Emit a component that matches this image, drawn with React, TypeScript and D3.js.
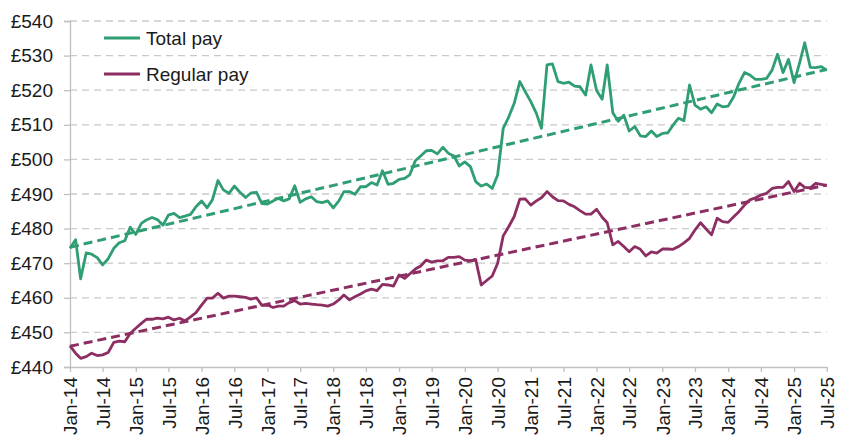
import * as d3 from 'd3';
import { useEffect, useRef } from 'react';

// monthly series, Jan-14 .. Jul-25 (139 points), £ per week
const totalPay = [
  474.3, 476.8, 465.5, 473.0, 472.6, 471.6, 469.5, 471.3, 474.3, 475.9, 476.5, 480.4,
  478.3, 481.5, 482.5, 483.2, 482.6, 481.0, 483.9, 484.4, 483.2, 483.6, 484.1, 486.3,
  488.0, 486.0, 488.3, 493.9, 491.2, 490.2, 492.3, 490.5, 489.0, 490.3, 490.5, 487.2,
  487.1, 488.0, 488.8, 488.0, 488.6, 492.4, 487.6, 488.6, 489.2, 487.8, 487.5, 488.0,
  486.0, 488.0, 490.7, 490.7, 489.9, 492.1, 492.1, 493.3, 492.6, 496.7, 492.8, 493.1,
  494.2, 494.5, 495.5, 499.6, 501.0, 502.5, 502.6, 501.6, 503.5, 501.8, 501.0, 498.1,
  499.3, 497.9, 493.6, 492.3, 492.9, 491.6, 495.5, 509.0, 512.3, 516.2, 522.5, 519.6,
  516.7, 513.3, 509.0, 527.3, 527.6, 522.5, 522.0, 522.3, 521.2, 521.0, 518.6, 527.3,
  519.9, 517.4, 527.3, 513.5, 511.0, 512.8, 508.2, 509.5, 506.8, 506.6, 508.2, 506.6,
  507.5, 507.7, 509.9, 511.9, 511.2, 521.5, 515.7, 514.5, 515.2, 513.5, 516.0, 515.2,
  515.4, 518.1, 522.0, 525.1, 524.4, 523.1, 523.1, 523.4, 525.8, 530.4, 525.1, 528.9,
  522.2, 528.0, 533.7, 526.6, 526.5, 526.8, 525.8
];

const regularPay = [
  446.1, 444.0, 442.5, 443.0, 444.0, 443.3, 443.5, 444.2, 447.1, 447.5, 447.3, 449.7,
  451.2, 452.6, 453.8, 453.8, 454.1, 453.9, 454.4, 453.6, 454.1, 453.3, 454.5, 455.7,
  457.9, 459.9, 459.9, 461.3, 459.9, 460.5, 460.5, 460.3, 460.1, 459.6, 460.0, 457.8,
  457.9, 457.2, 457.6, 457.6, 458.6, 459.2, 458.2, 458.4, 458.2, 458.0, 457.9, 457.6,
  458.2, 459.4, 460.8, 459.4, 460.3, 461.1, 462.0, 462.5, 462.1, 463.9, 463.7, 463.4,
  466.6, 465.6, 466.9, 468.3, 469.2, 470.9, 470.3, 470.7, 470.7, 471.7, 471.7, 471.9,
  470.9, 470.7, 471.1, 463.7, 465.0, 466.3, 470.0, 477.9, 480.6, 483.5, 488.5, 488.6,
  486.8, 488.0, 488.9, 490.7, 489.2, 488.1, 488.0, 487.0, 486.3, 485.2, 484.2, 484.2,
  485.6, 483.3, 481.7, 475.3, 476.3, 474.8, 473.3, 474.8, 474.0, 472.1, 473.3, 472.9,
  474.1, 474.1, 474.0, 474.8, 475.9, 477.2, 479.6, 481.7, 479.9, 478.2, 483.0, 482.0,
  481.8, 483.4, 484.9, 486.8, 488.3, 488.9, 489.7, 490.2, 491.6, 491.9, 491.9, 493.6,
  490.7, 493.1, 491.9, 491.8, 493.1, 492.8, 492.4
];

// trend lines: value at Jan-14 and at Jul-25
const totalTrend = [474.6, 526.0];
const regularTrend = [446.0, 492.6];

const yTicks = [440, 450, 460, 470, 480, 490, 500, 510, 520, 530, 540];

const legendItems = [
  { label: 'Total pay', color: '#2f9e73' },
  { label: 'Regular pay', color: '#8d2e63' }
];

const FONT = '"Liberation Sans", Arial, sans-serif';

function PayChart() {
  const ref = useRef<SVGSVGElement>(null);

  useEffect(() => {
    const width = 848;
    const height = 441;
    const svg = d3.select(ref.current);
    svg.selectAll('*').remove();
    svg.attr('width', width).attr('height', height);

    const start = new Date(2014, 0, 1);
    const end = new Date(2025, 6, 1);
    const months = d3.timeMonth.range(start, d3.timeMonth.offset(end, 1));

    const x = d3.scaleTime().domain([start, end]).range([70, 826.7]);
    const y = d3.scaleLinear().domain([440, 540]).range([367, 21]);

    // gridlines
    svg.append('g')
      .selectAll('line')
      .data(yTicks.filter((t) => t !== 440))
      .enter()
      .append('line')
      .attr('x1', 70)
      .attr('x2', 826.7)
      .attr('y1', (d) => y(d))
      .attr('y2', (d) => y(d))
      .attr('stroke', '#c9c9c9')
      .attr('stroke-width', 1.3)
      .attr('stroke-dasharray', '7,5');

    // y axis
    const yAxis = svg.append('g')
      .attr('transform', 'translate(70,0)')
      .call(d3.axisLeft(y).tickValues(yTicks).tickSize(6).tickPadding(11).tickFormat((d) => `£${d}`));
    yAxis.select('.domain').attr('stroke', '#bfbfbf').attr('stroke-width', 1.3);
    yAxis.selectAll('.tick line').attr('stroke', '#bfbfbf').attr('stroke-width', 1.3);
    yAxis.selectAll('text')
      .attr('font-family', FONT)
      .attr('font-size', 19)
      .attr('fill', '#1a1a1a');

    // x axis
    const xAxis = svg.append('g')
      .attr('transform', `translate(0,${y(440)})`)
      .call(
        d3.axisBottom(x)
          .ticks(d3.timeMonth.every(6))
          .tickSize(5)
          .tickSizeOuter(0)
          .tickFormat((d) => d3.timeFormat('%b-%y')(d as Date))
      );
    xAxis.select('.domain').attr('stroke', '#bfbfbf').attr('stroke-width', 1.3);
    xAxis.selectAll('.tick line').attr('stroke', '#bfbfbf').attr('stroke-width', 1.3);
    xAxis.selectAll('text')
      .attr('font-family', FONT)
      .attr('font-size', 19)
      .attr('fill', '#1a1a1a')
      .attr('text-anchor', 'end')
      .attr('transform', 'rotate(-90)')
      .attr('x', -10)
      .attr('y', 0)
      .attr('dy', '0.35em');

    const line = d3.line<number>()
      .x((_, i) => x(months[i]))
      .y((d) => y(d));

    // trend lines
    const trend = (vals: number[], color: string) => {
      svg.append('line')
        .attr('x1', x(start))
        .attr('x2', x(end))
        .attr('y1', y(vals[0]))
        .attr('y2', y(vals[1]))
        .attr('stroke', color)
        .attr('stroke-width', 3)
        .attr('stroke-dasharray', '9,5');
    };
    trend(totalTrend, legendItems[0].color);
    trend(regularTrend, legendItems[1].color);

    svg.append('path')
      .datum(totalPay)
      .attr('d', line)
      .attr('fill', 'none')
      .attr('stroke', legendItems[0].color)
      .attr('stroke-width', 2.8)
      .attr('stroke-linejoin', 'round');

    svg.append('path')
      .datum(regularPay)
      .attr('d', line)
      .attr('fill', 'none')
      .attr('stroke', legendItems[1].color)
      .attr('stroke-width', 2.8)
      .attr('stroke-linejoin', 'round');

    // legend
    const legend = svg.append('g')
      .selectAll('g')
      .data(legendItems)
      .enter()
      .append('g')
      .attr('transform', (_, i) => `translate(104,${38 + i * 36})`);
    legend.append('line')
      .attr('x1', 0)
      .attr('x2', 36)
      .attr('stroke', (d) => d.color)
      .attr('stroke-width', 3);
    legend.append('text')
      .attr('x', 42)
      .attr('dy', '0.35em')
      .attr('font-family', FONT)
      .attr('font-size', 19)
      .attr('fill', '#1a1a1a')
      .text((d) => d.label);
  }, []);

  return <svg ref={ref} style={{ position: 'absolute', left: 0, top: 0 }}></svg>;
}

export default function App() {
  return <PayChart />;
}
